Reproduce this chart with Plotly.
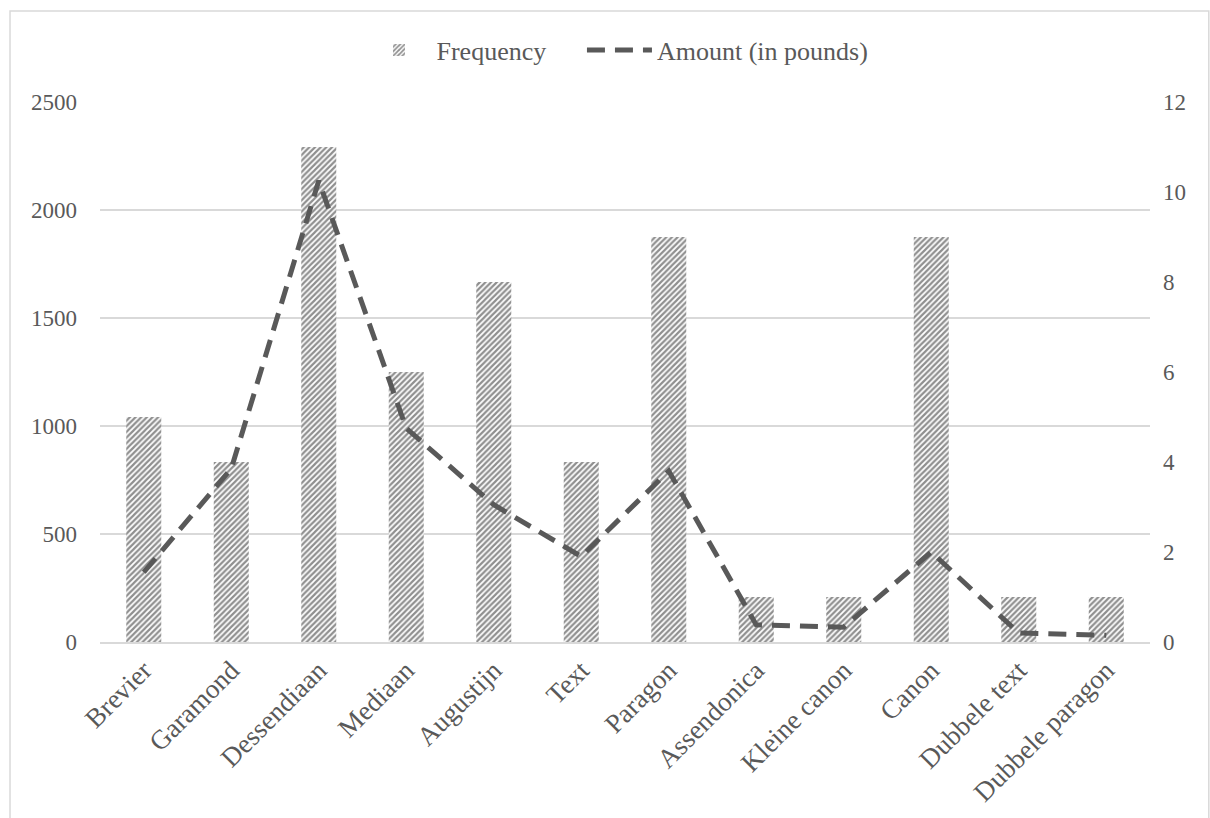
import plotly.graph_objects as go

# Type sizes and the number of uses / amount spent on each
categories = ["Brevier", "Garamond", "Dessendiaan", "Mediaan", "Augustijn", "Text",
              "Paragon", "Assendonica", "Kleine canon", "Canon", "Dubbele text",
              "Dubbele paragon"]
frequency = [1042, 833, 2292, 1250, 1667, 833, 1875, 208, 208, 1875, 208, 208]
amount_pounds = [1.55, 3.85, 10.25, 4.75, 3.05, 1.9, 3.8, 0.38, 0.33, 2.0, 0.2, 0.15]

freq_ticks = [0, 500, 1000, 1500, 2000, 2500]
amount_ticks = [0, 2, 4, 6, 8, 10, 12]

FONT = "Liberation Serif"
TEXT = "#595959"
GRID = "#d9d9d9"

fig = go.Figure()

fig.add_trace(go.Bar(
    x=categories, y=frequency, name="Frequency",
    marker=dict(color="white",
                line=dict(width=0),
                pattern=dict(shape="/", fgcolor="#1f1f1f", bgcolor="white",
                             size=4, solidity=0.55)),
    yaxis="y", legend="legend",
))

fig.add_trace(go.Scatter(
    x=categories, y=amount_pounds, name="Amount (in pounds)",
    mode="lines",
    line=dict(color="#595959", width=5, dash="18px,10px"),
    yaxis="y2", legend="legend2",
))

legend_font = dict(family=FONT, size=26, color=TEXT)

fig.update_layout(
    width=1210, height=818,
    margin=dict(l=100, r=60, t=102, b=176),
    paper_bgcolor="white", plot_bgcolor="white",
    font=dict(family=FONT, size=23, color=TEXT),
    bargap=0.6,
    showlegend=True,
    legend=dict(orientation="h", x=0.43, xanchor="right", y=1.096, yanchor="middle",
                font=legend_font, itemwidth=65),
    legend2=dict(orientation="h", x=0.459, xanchor="left", y=1.096, yanchor="middle",
                 font=legend_font, itemwidth=65),
    xaxis=dict(showgrid=False, showline=True, linecolor=GRID, linewidth=1.5,
               tickangle=-45, ticks="", tickfont=dict(family=FONT, size=27, color=TEXT)),
    yaxis=dict(range=[0, 2500], tickvals=freq_ticks, showgrid=True, gridcolor=GRID,
               gridwidth=1.5, zeroline=False, showline=False, ticks="",
               ticklabelstandoff=22,
               tickfont=dict(family=FONT, size=23, color=TEXT)),
    yaxis2=dict(range=[0, 12], tickvals=amount_ticks, overlaying="y", side="right",
                showgrid=False, zeroline=False, showline=False, ticks="",
                ticklabelstandoff=12,
                tickfont=dict(family=FONT, size=23, color=TEXT)),
)

# Chart frame around the whole graphic
fig.add_shape(type="rect", xref="paper", yref="paper",
              x0=-0.0857, x1=1.056, y0=-0.4, y1=1.1685,
              line=dict(color=GRID, width=1.5), fillcolor="rgba(0,0,0,0)",
              layer="below")

fig.write_html("out.html")
